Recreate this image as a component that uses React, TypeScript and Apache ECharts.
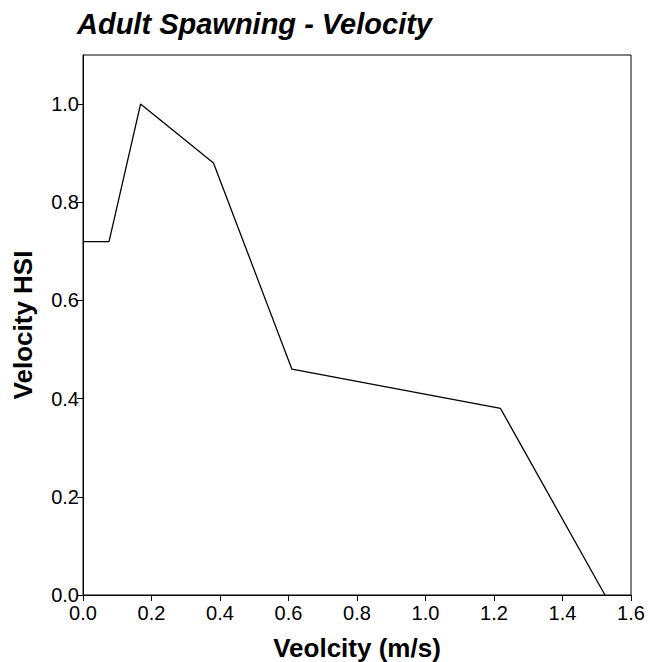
import React, { useEffect, useRef } from "react";
import * as echarts from "echarts";

// Habitat suitability curve: velocity (m/s) vs. HSI
const velocity = [0, 0.076, 0.168, 0.381, 0.61, 1.219, 1.524];
const hsi = [0.72, 0.72, 1.0, 0.88, 0.46, 0.38, 0.0];
const xTicks = [0, 0.2, 0.4, 0.6, 0.8, 1.0, 1.2, 1.4, 1.6];

const FONT = "'Liberation Sans', Arial, sans-serif";

export default function App() {
  const ref = useRef<HTMLDivElement>(null);

  useEffect(() => {
    if (!ref.current) return;
    const chart = echarts.init(ref.current, null, { renderer: "svg" });
    const axisCommon = {
      axisLine: { show: true, onZero: false, lineStyle: { color: "#000", width: 1 } },
      axisTick: { show: true, length: 6, lineStyle: { color: "#000" } },
      splitLine: { show: false },
      axisLabel: {
        color: "#000",
        fontSize: 20,
        fontFamily: FONT,
        formatter: (v: number) => v.toFixed(1),
      },
      nameLocation: "middle" as const,
      nameTextStyle: { color: "#000", fontSize: 26, fontWeight: "bold" as const, fontFamily: FONT },
    };
    chart.setOption({
      animation: false,
      backgroundColor: "#fff",
      title: {
        text: "Adult Spawning - Velocity",
        left: 72,
        top: 4,
        textStyle: {
          color: "#000",
          fontSize: 29,
          fontWeight: "bold",
          fontStyle: "italic",
          fontFamily: FONT,
        },
      },
      grid: {
        left: 83,
        right: 19,
        top: 55,
        bottom: 67,
        outerBoundsMode: "none",
        containLabel: false,
        show: true,
        borderColor: "#000",
        borderWidth: 1,
        backgroundColor: "transparent",
      },
      xAxis: {
        type: "value",
        min: xTicks[0],
        max: xTicks[xTicks.length - 1],
        interval: 0.2,
        name: "Veolcity (m/s)",
        nameGap: 40,
        ...axisCommon,
        axisLabel: { ...axisCommon.axisLabel, margin: 8 },
      },
      yAxis: {
        type: "value",
        min: 0,
        max: 1.1,
        interval: 0.2,
        name: "Velocity HSI",
        nameGap: 47,
        ...axisCommon,
        axisLabel: {
          ...axisCommon.axisLabel,
          margin: 4,
          showMaxLabel: false,
        },
      },
      series: [
        {
          type: "line",
          data: velocity.map((v, i) => [v, hsi[i]]),
          showSymbol: false,
          lineStyle: { color: "#000", width: 1.3 },
        },
      ],
    });
    return () => chart.dispose();
  }, []);

  return (
    <div
      ref={ref}
      style={{ position: "absolute", left: 0, top: 0, width: 650, height: 662 }}
    />
  );
}
